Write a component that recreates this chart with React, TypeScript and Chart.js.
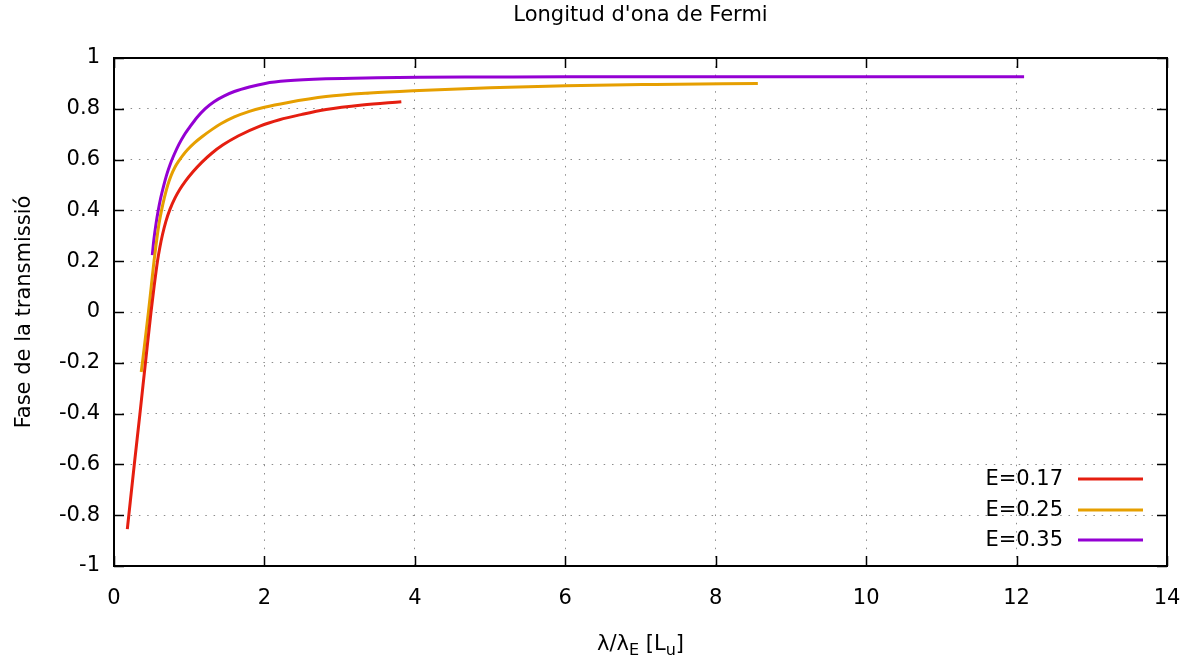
import React, { useEffect, useRef } from 'react';
import { Chart, registerables } from 'chart.js';

Chart.register(...registerables);

const FONT = '"DejaVu Sans", Verdana, sans-serif';
const FONT_SIZE = 21;

const chartTitle = "Longitud d'ona de Fermi";
const yAxisTitle = 'Fase de la transmissió';
// x-axis title: λ/λ_E [L_u]
const xTitleParts = [
  { text: 'λ/λ', sub: false },
  { text: 'E', sub: true },
  { text: ' [L', sub: false },
  { text: 'u', sub: true },
  { text: ']', sub: false },
];

const seriesLabels = ['E=0.17', 'E=0.25', 'E=0.35'];
const seriesColors = ['#e51e10', '#e69f00', '#9400d3'];

const xTicks = [0, 2, 4, 6, 8, 10, 12, 14];
const yTicks = [-1, -0.8, -0.6, -0.4, -0.2, 0, 0.2, 0.4, 0.6, 0.8, 1];

// E = 0.17
const redX = [0.177, 0.197, 0.27, 0.345, 0.418, 0.492, 0.535, 0.578, 0.61, 0.645, 0.69, 0.745, 0.81, 0.87, 0.95, 1.05, 1.17, 1.3, 1.45, 1.65, 1.94, 2.2, 2.5, 2.82, 3.3, 3.82];
const redY = [-0.855, -0.8, -0.6, -0.4, -0.2, 0.0, 0.105, 0.2, 0.255, 0.305, 0.357, 0.405, 0.448, 0.48, 0.515, 0.552, 0.59, 0.625, 0.658, 0.693, 0.732, 0.757, 0.778, 0.797, 0.815, 0.828];

// E = 0.25
const orangeX = [0.362, 0.378, 0.418, 0.458, 0.495, 0.532, 0.555, 0.575, 0.6, 0.632, 0.67, 0.715, 0.76, 0.81, 0.86, 0.91, 0.98, 1.07, 1.17, 1.3, 1.42, 1.6, 1.8, 2.0, 2.3, 2.82, 3.4, 4.06, 5.0, 6.01, 7.2, 8.56];
const orangeY = [-0.236, -0.2, -0.1, 0.0, 0.1, 0.2, 0.255, 0.3, 0.35, 0.4, 0.45, 0.5, 0.538, 0.57, 0.594, 0.615, 0.64, 0.666, 0.69, 0.718, 0.741, 0.768, 0.79, 0.806, 0.824, 0.848, 0.862, 0.872, 0.883, 0.891, 0.896, 0.9];

// E = 0.35
const purpleX = [0.509, 0.53, 0.56, 0.588, 0.62, 0.66, 0.7, 0.745, 0.8, 0.863, 0.93, 1.0, 1.1, 1.21, 1.33, 1.46, 1.6, 1.8, 2.01, 2.3, 2.82, 3.5, 4.06, 5.0, 6.0, 8.0, 10.0, 12.1];
const purpleY = [0.224, 0.285, 0.35, 0.4, 0.448, 0.497, 0.54, 0.58, 0.62, 0.66, 0.695, 0.725, 0.765, 0.8, 0.828, 0.85, 0.868, 0.886, 0.9, 0.91, 0.918, 0.922, 0.924, 0.925, 0.926, 0.926, 0.926, 0.926];

const seriesX = [redX, orangeX, purpleX];
const seriesY = [redY, orangeY, purpleY];

const font = (size: number) => `${size}px ${FONT}`;

const decorPlugin = {
  id: 'decor',
  afterDatasetsDraw(chart: any) {
    const { ctx, chartArea: a, scales } = chart;
    const xs = scales.x;
    const ys = scales.y;
    ctx.save();
    // border
    ctx.strokeStyle = '#000';
    ctx.lineWidth = 2;
    ctx.strokeRect(a.left, a.top, a.right - a.left, a.bottom - a.top);
    // inward tick marks on all four sides
    const tl = 10;
    ctx.lineWidth = 1.5;
    ctx.beginPath();
    for (const v of xTicks) {
      const px = Math.round(xs.getPixelForValue(v)) + 0.5;
      ctx.moveTo(px, a.bottom);
      ctx.lineTo(px, a.bottom - tl);
      ctx.moveTo(px, a.top);
      ctx.lineTo(px, a.top + tl);
    }
    for (const v of yTicks) {
      const py = Math.round(ys.getPixelForValue(v)) + 0.5;
      ctx.moveTo(a.left, py);
      ctx.lineTo(a.left + tl, py);
      ctx.moveTo(a.right, py);
      ctx.lineTo(a.right - tl, py);
    }
    ctx.stroke();

    // legend (inside, bottom right)
    ctx.font = font(FONT_SIZE);
    ctx.fillStyle = '#000';
    ctx.textAlign = 'right';
    ctx.textBaseline = 'middle';
    const rowOffsets = [87, 56, 26];
    seriesLabels.forEach((lab, i) => {
      const y = a.bottom - rowOffsets[i];
      ctx.fillText(lab, a.right - 104, y + 1);
      ctx.strokeStyle = seriesColors[i];
      ctx.lineWidth = 3;
      ctx.beginPath();
      ctx.moveTo(a.right - 89, y);
      ctx.lineTo(a.right - 24, y);
      ctx.stroke();
    });

    // title
    const cx = (a.left + a.right) / 2;
    ctx.textAlign = 'center';
    ctx.textBaseline = 'alphabetic';
    ctx.fillStyle = '#000';
    ctx.font = font(FONT_SIZE);
    ctx.fillText(chartTitle, cx, 21);

    // y-axis title
    ctx.save();
    ctx.translate(30, (a.top + a.bottom) / 2);
    ctx.rotate(-Math.PI / 2);
    ctx.fillText(yAxisTitle, 0, 0);
    ctx.restore();

    // x-axis title with subscripts
    const subSize = 16;
    let total = 0;
    const widths = xTitleParts.map((p) => {
      ctx.font = font(p.sub ? subSize : FONT_SIZE);
      const w = ctx.measureText(p.text).width;
      total += w;
      return w;
    });
    let x = cx - total / 2;
    const base = 650;
    ctx.textAlign = 'left';
    xTitleParts.forEach((p, i) => {
      ctx.font = font(p.sub ? subSize : FONT_SIZE);
      ctx.fillText(p.text, x, p.sub ? base + 5 : base);
      x += widths[i];
    });
    ctx.restore();
  },
};

export default function App() {
  const ref = useRef<HTMLCanvasElement>(null);
  useEffect(() => {
    const canvas = ref.current!;
    const gridOpts = {
      color: '#8c8c8c',
      lineWidth: 1,
      drawTicks: false,
    };
    const chart = new Chart(canvas, {
      type: 'line',
      data: {
        datasets: seriesLabels.map((label, i) => ({
          label,
          data: seriesX[i].map((x, j) => ({ x, y: seriesY[i][j] })),
          borderColor: seriesColors[i],
          backgroundColor: seriesColors[i],
          borderWidth: 3,
          pointRadius: 0,
          cubicInterpolationMode: 'monotone' as const,
          fill: false,
        })),
      },
      options: {
        responsive: false,
        animation: false,
        layout: { padding: { top: 58, right: 34, left: 0, bottom: 0 } },
        plugins: {
          legend: { display: false },
          title: { display: false },
          tooltip: { enabled: false },
        },
        scales: {
          x: {
            type: 'linear',
            min: 0,
            max: 14,
            afterBuildTicks: (s: any) => {
              s.ticks = xTicks.map((v) => ({ value: v }));
            },
            afterFit: (s: any) => {
              s.height = 98;
            },
            grid: gridOpts,
            border: { display: false, dash: [1.5, 6.8] },
            ticks: {
              padding: 20,
              color: '#000',
              font: { family: FONT, size: FONT_SIZE },
              maxRotation: 0,
              callback: (v: any) => String(v),
            },
          },
          y: {
            type: 'linear',
            min: -1,
            max: 1,
            afterBuildTicks: (s: any) => {
              s.ticks = yTicks.map((v) => ({ value: v }));
            },
            afterFit: (s: any) => {
              s.width = 114;
            },
            grid: gridOpts,
            border: { display: false, dash: [1.5, 6.8] },
            ticks: {
              padding: 14,
              color: '#000',
              font: { family: FONT, size: FONT_SIZE },
              callback: (v: any) => String(Math.round(Number(v) * 10) / 10),
            },
          },
        },
      },
      plugins: [decorPlugin],
    } as any);
    return () => chart.destroy();
  }, []);
  return (
    <div style={{ position: 'fixed', left: 0, top: 0, width: 1201, height: 664, background: '#fff' }}>
      <canvas ref={ref} width={1201} height={664} style={{ display: 'block' }} />
    </div>
  );
}
